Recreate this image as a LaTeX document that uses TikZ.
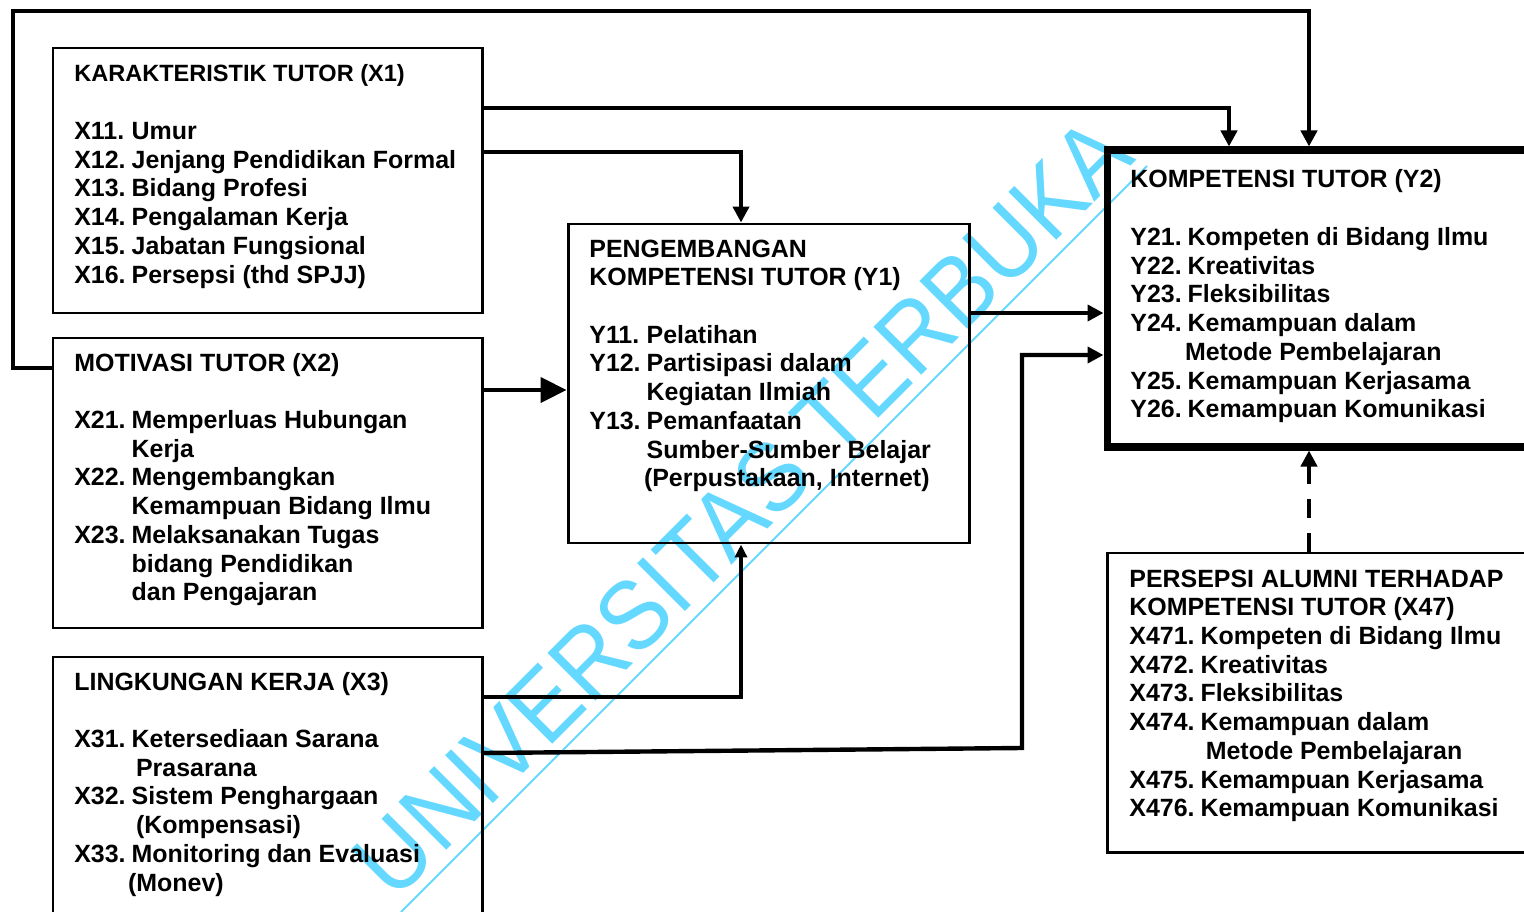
\documentclass[tikz,border=0pt]{standalone}
\usepackage{fontspec}
\setmainfont{Liberation Sans}
\usetikzlibrary{arrows.meta,fit}

\definecolor{wmblue}{RGB}{100,216,255}

\tikzset{
  box/.style={draw, line width=1.7pt, inner sep=0pt},
  boxbold/.style={draw, line width=4pt, inner sep=0pt},
  txt/.style={anchor=base west, inner sep=0pt, font=\bfseries\fontsize{14.2}{16.36}\selectfont},
  conn/.style={line width=2.5pt},
  wm/.style={text=wmblue, inner sep=0pt, font=\fontsize{56}{56}\selectfont}
}

\begin{document}
\begin{tikzpicture}[x=0.02cm, y=-0.02cm, >={Triangle[length=0.32cm,width=0.32cm]}]
  \useasboundingbox (0,0) rectangle (1524,912);
  \clip (0,0) rectangle (1524,912);

  % boxes
  \node[box, fit={(53,48) (482,313)}] (x1) {};
  \node[box, fit={(53,338) (482,628)}] (x2) {};
  \node[box, fit={(53,657) (482,960)}] (x3) {};
  \node[box, fit={(568,224) (969,543)}] (y1) {};
  \node[boxbold, fit={(1107,150) (1570,447)}] (y2) {};
  \node[box, fit={(1107,553) (1570,852)}] (x47) {};

  % box texts
  \node[txt] (x1txt) at (74,82) {\begin{tabular}[t]{@{}l@{\hspace{3.4pt}}l@{}}
    \multicolumn{2}{@{}l@{}}{\fontsize{13.4}{16.36}\selectfont KARAKTERISTIK TUTOR (X1)}\\
    \\
    X11. & Umur\\
    X12. & Jenjang Pendidikan Formal\\
    X13. & Bidang Profesi\\
    X14. & Pengalaman Kerja\\
    X15. & Jabatan Fungsional\\
    X16. & Persepsi (thd SPJJ)
  \end{tabular}};
  \node[txt] (x2txt) at (74,371) {\begin{tabular}[t]{@{}l@{\hspace{3.4pt}}l@{}}
    \multicolumn{2}{@{}l@{}}{MOTIVASI TUTOR (X2)}\\
    \\
    X21. & Memperluas Hubungan\\
         & Kerja\\
    X22. & Mengembangkan\\
         & Kemampuan Bidang Ilmu\\
    X23. & Melaksanakan Tugas\\
         & bidang Pendidikan\\
         & dan Pengajaran
  \end{tabular}};
  \node[txt] (x3txt) at (74,690) {\begin{tabular}[t]{@{}l@{\hspace{3.4pt}}l@{}}
    \multicolumn{2}{@{}l@{}}{LINGKUNGAN KERJA (X3)}\\
    \\
    X31. & Ketersediaan Sarana\\
         & \hspace{2.5pt}Prasarana\\
    X32. & Sistem Penghargaan\\
         & \hspace{2.5pt}(Kompensasi)\\
    X33. & Monitoring dan Evaluasi\\
         & \hspace{-2pt}(Monev)
  \end{tabular}};
  \node[txt] (y1txt) at (589,257) {\begin{tabular}[t]{@{}l@{\hspace{3.4pt}}l@{}}
    \multicolumn{2}{@{}l@{}}{PENGEMBANGAN}\\
    \multicolumn{2}{@{}l@{}}{KOMPETENSI TUTOR (Y1)}\\
    \\
    Y11. & Pelatihan\\
    Y12. & Partisipasi dalam\\
         & Kegiatan Ilmiah\\
    Y13. & Pemanfaatan\\
         & Sumber-Sumber Belajar\\
         & \hspace{-1.5pt}(Perpustakaan, Internet)
  \end{tabular}};
  \node[txt] (y2txt) at (1130,188) {\begin{tabular}[t]{@{}l@{\hspace{3.4pt}}l@{}}
    \multicolumn{2}{@{}l@{}}{KOMPETENSI TUTOR (Y2)}\\
    \\
    Y21. & Kompeten di Bidang Ilmu\\
    Y22. & Kreativitas\\
    Y23. & Fleksibilitas\\
    Y24. & Kemampuan dalam\\
         & \hspace{-1.5pt}Metode Pembelajaran\\
    Y25. & Kemampuan Kerjasama\\
    Y26. & Kemampuan Komunikasi
  \end{tabular}};
  \node[txt] (x47txt) at (1129,587) {\begin{tabular}[t]{@{}l@{\hspace{3.4pt}}l@{}}
    \multicolumn{2}{@{}l@{}}{PERSEPSI ALUMNI TERHADAP}\\
    \multicolumn{2}{@{}l@{}}{KOMPETENSI TUTOR (X47)}\\
    X471. & Kompeten di Bidang Ilmu\\
    X472. & Kreativitas\\
    X473. & Fleksibilitas\\
    X474. & Kemampuan dalam\\
          & \hspace{3pt}Metode Pembelajaran\\
    X475. & Kemampuan Kerjasama\\
    X476. & Kemampuan Komunikasi
  \end{tabular}};

  % connectors
  \draw[conn,->] (x2.west |- 0,368) -| (13,11) -| (y2.north -| 1309,0);
  \draw[conn,->] (x1.east |- 0,108) -| (y2.north -| 1229,0);
  \draw[conn,->] (x1.east |- 0,152) -| (y1.north -| 741,0);
  \draw[conn,-{Triangle[length=0.52cm,width=0.5cm]}] (x2.east |- 0,390) -- (y1.west |- 0,390);
  \draw[conn,->] (y1.east |- 0,313) -- (y2.west |- 0,313);
  \draw[conn,-{Triangle[length=0.26cm,width=0.24cm]}] (x3.east |- 0,697) -| (y1.south -| 741,0);
  \coordinate (bend) at (1022,748);
  \draw[conn,->] (x3.east |- 0,753) -- (bend) |- (y2.west |- 0,355);
  \draw[conn,dash pattern=on 0.38cm off 0.3cm,->] (x47.north -| 1309,0) -- (y2.south -| 1309,0);

  % watermark
  \begin{scope}[blend mode=multiply]
    \node[wm, rotate=45, xscale=0.92] (wmark) at (742,507) {UNIVERSITAS TERBUKA};
    \draw[wmblue, line width=1.1pt] (401,912) -- (1147,166);
  \end{scope}
\end{tikzpicture}
\end{document}
